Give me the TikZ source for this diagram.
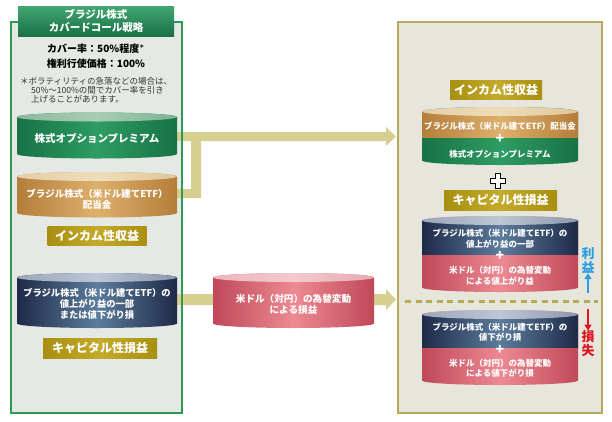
\documentclass[tikz,border=0pt]{standalone}
\usepackage{fontspec}
\setmainfont{Noto Sans CJK JP}
\usetikzlibrary{arrows.meta}
\definecolor{lpanel}{HTML}{E4E9E3}
\definecolor{lborder}{HTML}{2A9A55}
\definecolor{rpanel}{HTML}{E6E6DC}
\definecolor{rborder}{HTML}{B8AB55}
\definecolor{khaki}{HTML}{D6CF8F}
\definecolor{goldD}{HTML}{A88F0F}
\definecolor{goldL}{HTML}{C4AA2A}
\definecolor{grnD}{HTML}{177245}
\definecolor{grnL}{HTML}{2E9C62}
\definecolor{grnT}{HTML}{A8CDB2}
\definecolor{tanD}{HTML}{B47E3A}
\definecolor{tanL}{HTML}{DDB06C}
\definecolor{tanT}{HTML}{EEDDBA}
\definecolor{navD}{HTML}{1E2A48}
\definecolor{navL}{HTML}{5C7C9C}
\definecolor{navT}{HTML}{BCC6D6}
\definecolor{pnkD}{HTML}{C04858}
\definecolor{pnkL}{HTML}{EC8A92}
\definecolor{pnkT}{HTML}{F2CACE}
\definecolor{blueT}{HTML}{2A9EE0}
\definecolor{redT}{HTML}{E0141E}
\newcommand{\mycyl}[7]{%
  \path[#6] (#1,#4) arc[start angle=180,end angle=360,x radius=#5pt,y radius=4.5pt]
    -- (#2,#3) arc[start angle=0,end angle=180,x radius=#5pt,y radius=4.5pt] -- cycle;
  \path[#7] ({(#1+#2)/2},#3) ellipse[x radius=#5pt,y radius=4.5pt];
}
\tikzset{
  green body/.style={left color=grnD,right color=grnD,middle color=grnL},
  green top/.style={left color=grnT!80!grnD,right color=grnT!70!grnD,middle color=grnT},
  tan body/.style={left color=tanD,right color=tanD,middle color=tanL},
  tan top/.style={left color=tanT!85!tanD,right color=tanT!75!tanD,middle color=tanT},
  navy body/.style={left color=navD,right color=navD,middle color=navL},
  navy top/.style={left color=navT!80!navD,right color=navT!70!navD,middle color=navT},
  pink body/.style={left color=pnkD,right color=pnkD,middle color=pnkL},
  pink top/.style={left color=pnkT!85!pnkD,right color=pnkT!75!pnkD,middle color=pnkT},
  lab/.style={left color=goldD,right color=goldD,middle color=goldL,text=white,
    font=\bfseries\fontsize{12}{12}\selectfont,inner sep=0pt,minimum height=19pt},
  cyltxt/.style={text=white,font=\bfseries\fontsize{#1}{11}\selectfont,align=center,inner sep=0pt},
  cyltxt/.default=9.5,
  rtxt/.style={text=white,font=\bfseries\fontsize{8.5}{10.5}\selectfont,align=center,inner sep=0pt},
  plus/.style={text=white,font=\bfseries\fontsize{14}{14}\selectfont,inner sep=0pt},
  band/.style={fill=khaki},
}
\begin{document}
\begin{tikzpicture}[x=1pt,y=-1pt]
\useasboundingbox (0,0) rectangle (612,421);
\fill[white] (0,0) rectangle (612,421);
% panels
\coordinate (lp1) at (11,22);
\coordinate (lp2) at (182,413);
\coordinate (rp1) at (398,22);
\coordinate (rp2) at (602,413);
\fill[lpanel] (lp1) rectangle (lp2);
\fill[rpanel] (rp1) rectangle (rp2);
% arrows (bands)
\fill[band] (177,132) -- (386,132) -- (386,127) -- (396,136.5) -- (386,146) -- (386,141)
  -- (201,141) -- (201,198) -- (177,198) -- (177,189) -- (191,189) -- (191,141) -- (177,141) -- cycle;
\fill[band] (177,294) -- (386,294) -- (386,289) -- (396,299.5) -- (386,310) -- (386,305) -- (177,305) -- cycle;
\draw[lborder,line width=1.5pt] (lp1) rectangle (lp2);
\draw[rborder,line width=1.3pt] (rp1) rectangle (rp2);
% title
\node[top color=grnL!90!white,bottom color=grnD,minimum width=156pt,minimum height=30pt,inner sep=0pt,
  text=white,font=\bfseries\fontsize{10.5}{12.5}\selectfont,align=center] (title) at (96,21)
  {ブラジル株式\\カバードコール戦略};
\node[font=\bfseries\fontsize{10}{14.5}\selectfont,align=center,inner sep=0pt] (rate) at (96,56)
  {カバー率：50\%程度\textsuperscript{\tiny ＊}\\権利行使価格：100\%};
\node[font=\fontsize{8.5}{9}\selectfont,align=left,inner sep=0pt,text=black!80,anchor=north west] (note) at (20,77)
  {＊ボラティリティの急落などの場合は、\\\hspace*{11pt}50\%～100\%の間でカバー率を引き\\\hspace*{11pt}上げることがあります。};
% left cylinders
\mycyl{17}{177}{117}{154}{80}{green body}{green top}
\node[cyltxt=10.5] (opt) at (97,138) {株式オプションプレミアム};
\mycyl{17}{177}{176.5}{213}{80}{tan body}{tan top}
\node[cyltxt=9.5] (div) at (97,199.5) {ブラジル株式（米ドル建てETF）\\配当金};
\node[lab,minimum width=99pt] (inc) at (97,235.5) {インカム性収益};
\mycyl{17}{177}{277.5}{323.5}{80}{navy body}{navy top}
\node[cyltxt=9.3] (cap) at (97,304) {ブラジル株式（米ドル建てETF）の\\値上がり益の一部\\または値下がり損};
\node[lab,minimum width=114pt,minimum height=20pt] (capl) at (100,348) {キャピタル性損益};
% middle cylinder
\mycyl{213}{374}{277.5}{323.5}{80.5}{pink body}{pink top}
\node[cyltxt=9.6] (fx) at (293.5,304.5) {米ドル（対円）の為替変動\\による損益};
% right panel
\node[lab,minimum width=92pt] (rinc) at (496,89.5) {インカム性収益};
\mycyl{422}{578}{111.5}{160.5}{78}{green body}{green top}
\fill[tan body] (422,111.5) rectangle (578,137);
\path[tan top] (500,111.5) ellipse[x radius=78pt,y radius=4.5pt];
\node[rtxt] (rdiv) at (500,126) {ブラジル株式（米ドル建てETF）配当金};
\node[plus] (p1) at (500,139) {+};
\node[rtxt] (ropt) at (500,154) {株式オプションプレミアム};
\draw[black,line width=0.8pt,fill=white] (495.5,173) -- (500.5,173) -- (500.5,178) -- (505.5,178) -- (505.5,183)
  -- (500.5,183) -- (500.5,188) -- (495.5,188) -- (495.5,183) -- (490.5,183) -- (490.5,178) -- (495.5,178) -- cycle;
\coordinate (bigplus) at (498,180.5);
\node[lab,minimum width=113pt,minimum height=20pt] (rcap) at (500.5,200) {キャピタル性損益};
\mycyl{422}{578}{220.5}{287.5}{78}{pink body}{pink top}
\fill[navy body] (422,220.5) rectangle (578,254);
\path[navy top] (500,220.5) ellipse[x radius=78pt,y radius=4.5pt];
\node[rtxt] (rup) at (500,238.5) {ブラジル株式（米ドル建てETF）の\\値上がり益の一部};
\node[plus] (p2) at (500,256) {+};
\node[rtxt] (rfxup) at (500,275.5) {米ドル（対円）の為替変動\\による値上がり益};
\draw[rborder,line width=3pt,dash pattern=on 6pt off 4.5pt] (405,301) -- (598,301);
\mycyl{422}{578}{314.5}{380.5}{78}{pink body}{pink top}
\fill[navy body] (422,314.5) rectangle (578,347);
\path[navy top] (500,314.5) ellipse[x radius=78pt,y radius=4.5pt];
\node[rtxt] (rdn) at (500,332) {ブラジル株式（米ドル建てETF）の\\値下がり損};
\node[plus] (p3) at (500,350) {+};
\node[rtxt] (rfxdn) at (500,368) {米ドル（対円）の為替変動\\による値下がり損};
% profit / loss
\node[text=blueT,font=\bfseries\fontsize{13}{14}\selectfont,align=center,inner sep=0pt] (gain) at (588,260) {利\\益};
\coordinate (gainA) at (588,293);
\draw[blueT,line width=1.4pt,-{Triangle[length=6pt,width=7pt]}] (gainA) -- (gain.south);
\node[text=redT,font=\bfseries\fontsize{13}{14}\selectfont,align=center,inner sep=0pt] (loss) at (588,344) {損\\失};
\coordinate (lossA) at (588,309);
\draw[redT,line width=1.4pt,-{Triangle[length=6pt,width=7pt]}] (lossA) -- (loss.north);
\end{tikzpicture}
\end{document}
